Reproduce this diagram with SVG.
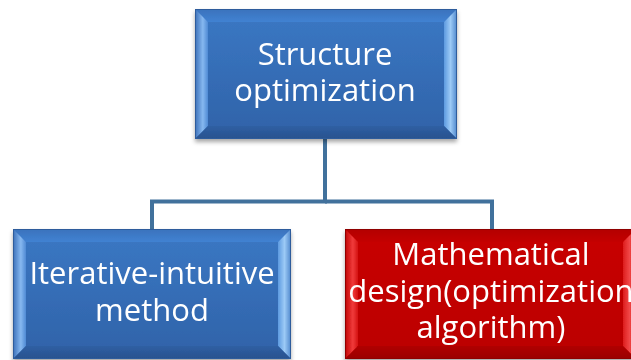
<svg xmlns="http://www.w3.org/2000/svg" width="631" height="360" viewBox="0 0 631 360">
  <style>
    .label { font-family: "Open Sans", "Noto Sans", "Liberation Sans", sans-serif; font-size: 31px; fill: #ffffff; text-anchor: middle; }
    .conn { fill: none; stroke: #41719c; stroke-width: 4; stroke-linejoin: miter; }
  </style>
  <defs>
    <filter id="shadow" x="-10%" y="-10%" width="120%" height="130%">
      <feDropShadow dx="0" dy="3" stdDeviation="2" flood-color="#000" flood-opacity="0.35"/>
    </filter>
    <!-- blue bevel faces -->
    <linearGradient id="bFace" x1="0" y1="0" x2="0" y2="1">
      <stop offset="0" stop-color="#3b78c4"/>
      <stop offset="1" stop-color="#2f62a8"/>
    </linearGradient>
    <linearGradient id="bTop" x1="0" y1="0" x2="0" y2="1">
      <stop offset="0" stop-color="#3a72bc"/>
      <stop offset="1" stop-color="#4182d2"/>
    </linearGradient>
    <linearGradient id="bLeft" x1="0" y1="0" x2="1" y2="0">
      <stop offset="0" stop-color="#3a6fb8"/>
      <stop offset="0.6" stop-color="#86b8f0"/>
      <stop offset="1" stop-color="#4e8ad4"/>
    </linearGradient>
    <linearGradient id="bRight" x1="0" y1="0" x2="1" y2="0">
      <stop offset="0" stop-color="#5d9ae0"/>
      <stop offset="0.5" stop-color="#9ccaf6"/>
      <stop offset="1" stop-color="#4f87cc"/>
    </linearGradient>
    <linearGradient id="bBottom" x1="0" y1="0" x2="0" y2="1">
      <stop offset="0" stop-color="#2f5fa3"/>
      <stop offset="1" stop-color="#28528e"/>
    </linearGradient>
    <!-- red bevel faces -->
    <linearGradient id="rFace" x1="0" y1="0" x2="0" y2="1">
      <stop offset="0" stop-color="#c80000"/>
      <stop offset="1" stop-color="#bb0000"/>
    </linearGradient>
    <linearGradient id="rTop" x1="0" y1="0" x2="0" y2="1">
      <stop offset="0" stop-color="#b30000"/>
      <stop offset="1" stop-color="#c40000"/>
    </linearGradient>
    <linearGradient id="rLeft" x1="0" y1="0" x2="1" y2="0">
      <stop offset="0" stop-color="#c00000"/>
      <stop offset="0.6" stop-color="#f03a3a"/>
      <stop offset="1" stop-color="#d41414"/>
    </linearGradient>
    <linearGradient id="rRight" x1="0" y1="0" x2="1" y2="0">
      <stop offset="0" stop-color="#dc1c1c"/>
      <stop offset="0.5" stop-color="#f24848"/>
      <stop offset="1" stop-color="#cc0a0a"/>
    </linearGradient>
    <linearGradient id="rBottom" x1="0" y1="0" x2="0" y2="1">
      <stop offset="0" stop-color="#b00000"/>
      <stop offset="1" stop-color="#9a0000"/>
    </linearGradient>
  </defs>

  <rect width="631" height="360" fill="#ffffff"/>

  <!-- connectors -->
  <g id="connectors">
    <polyline class="conn" points="325,139 325,201.5 152,201.5 152,229"/>
    <polyline class="conn" points="325,201.5 492,201.5 492,229"/>
  </g>

  <!-- root node: 195,9 to 457,139 -->
  <g id="node-structure" filter="url(#shadow)">
    <rect x="195" y="9" width="262" height="130" fill="url(#bFace)"/>
    <polygon points="195,9 457,9 444,22 208,22" fill="url(#bTop)"/>
    <polygon points="195,9 208,22 208,126 195,139" fill="url(#bLeft)"/>
    <polygon points="457,9 457,139 444,126 444,22" fill="url(#bRight)"/>
    <polygon points="195,139 208,126 444,126 457,139" fill="url(#bBottom)"/>
    <rect x="195.5" y="9.5" width="261" height="129" fill="none" stroke="#2d5c9c" stroke-width="1"/>
    <text class="label" x="325" y="65">Structure</text>
    <text class="label" x="325" y="101">optimization</text>
  </g>

  <!-- left child: 13,229 to 291,359 -->
  <g id="node-iterative" filter="url(#shadow)">
    <rect x="13" y="229" width="278" height="130" fill="url(#bFace)"/>
    <polygon points="13,229 291,229 278,242 26,242" fill="url(#bTop)"/>
    <polygon points="13,229 26,242 26,346 13,359" fill="url(#bLeft)"/>
    <polygon points="291,229 291,359 278,346 278,242" fill="url(#bRight)"/>
    <polygon points="13,359 26,346 278,346 291,359" fill="url(#bBottom)"/>
    <rect x="13.5" y="229.5" width="277" height="129" fill="none" stroke="#2d5c9c" stroke-width="1"/>
    <text class="label" x="152" y="284">Iterative-intuitive</text>
    <text class="label" x="152" y="321">method</text>
  </g>

  <!-- right child: 345,229 to 636,359 -->
  <g id="node-mathematical" filter="url(#shadow)">
    <rect x="345" y="229" width="291" height="130" fill="url(#rFace)"/>
    <polygon points="345,229 636,229 623,242 358,242" fill="url(#rTop)"/>
    <polygon points="345,229 358,242 358,346 345,359" fill="url(#rLeft)"/>
    <polygon points="636,229 636,359 623,346 623,242" fill="url(#rRight)"/>
    <polygon points="345,359 358,346 623,346 636,359" fill="url(#rBottom)"/>
    <rect x="345.5" y="229.5" width="290" height="129" fill="none" stroke="#8f0000" stroke-width="1"/>
    <text class="label" x="491" y="265">Mathematical</text>
    <text class="label" x="491" y="302">design(optimization</text>
    <text class="label" x="491" y="338">algorithm)</text>
  </g>
</svg>
